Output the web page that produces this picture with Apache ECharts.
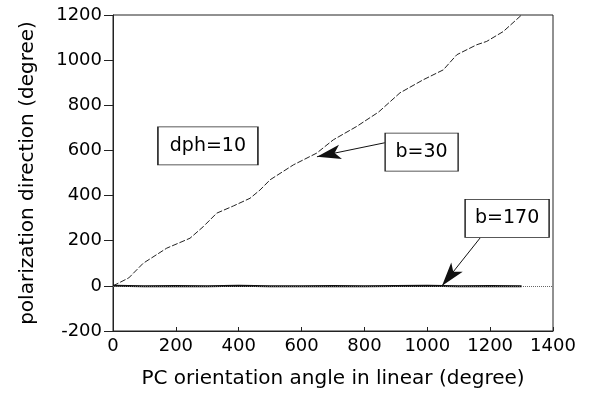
<!DOCTYPE html>
<html><head><meta charset="utf-8">
<script src="https://cdn.jsdelivr.net/npm/echarts@6/dist/echarts.min.js"></script>
<style>html,body{margin:0;padding:0;background:#fff}#c{width:597px;height:396px}</style>
</head><body><div id="c"></div>
<script>
// Data
var b30X = [0,50,96,171,245,287,330,383,436,468,500,574,648,701,775,845,913,987,1051,1094,1157,1189,1242,1300];
var b30Y = [0,35,100,167,211,262,322,354,388,425,470,536,588,647,706,770,855,913,957,1024,1068,1083,1127,1200];
var b170X = [0,100,200,300,400,500,600,700,800,900,1000,1100,1200,1300];
var b170Y = [0,-2,-1,-2,0,-2,-2,-1,-2,-1,0,-2,-1,-2];
var xTicks = [0,200,400,600,800,1000,1200,1400];
var yTicks = [-200,0,200,400,600,800,1000,1200];
// annotations (data coordinates)
var noteDph = {text:'dph=10', at:[302,620]};
var noteB30 = {text:'b=30', at:[982,592], from:[865,634], to:[649,572]};
var noteB170 = {text:'b=170', at:[1254,299], from:[1168,212], to:[1047,0]};

var FONT = 'DejaVu Sans, sans-serif';
function pairs(xs, ys){ return xs.map(function(x,i){return [x, ys[i]];}); }
function box(n, w){
  return {coord:n.at, symbol:'rect', symbolSize:[w,38],
    itemStyle:{color:'#fff', borderColor:'#222', borderWidth:1},
    label:{show:true, position:'inside', formatter:n.text, color:'#000', fontSize:19, fontFamily:FONT}};
}
function arrow(n){
  return [{coord:n.from, symbol:'none'},{coord:n.to, symbol:'arrow', symbolSize:[11,24]}];
}
function plain(v){ return String(v); }
var chart = echarts.init(document.getElementById('c'), null, {renderer:'canvas'});
chart.setOption({
  animation:false,
  backgroundColor:'#fff',
  grid:{left:113, right:44, top:15, bottom:65, show:true, borderColor:'#222', borderWidth:1, backgroundColor:'transparent'},
  xAxis:{type:'value', min:xTicks[0], max:xTicks[xTicks.length-1], interval:200,
    name:'PC orientation angle in linear (degree)', nameLocation:'middle', nameGap:38,
    nameTextStyle:{fontSize:20, color:'#000', fontFamily:FONT},
    axisLine:{show:true, onZero:false, lineStyle:{color:'#222', width:1}},
    axisTick:{show:true, inside:true, length:4, lineStyle:{color:'#222'}},
    axisLabel:{fontSize:18, color:'#000', fontFamily:FONT, margin:6, formatter:plain},
    splitLine:{show:false}},
  yAxis:{type:'value', min:yTicks[0], max:yTicks[yTicks.length-1], interval:200,
    name:'polarization direction (degree)', nameLocation:'middle', nameGap:75,
    nameTextStyle:{fontSize:20, color:'#000', fontFamily:FONT},
    axisLine:{show:true, onZero:false, lineStyle:{color:'#222', width:1}},
    axisTick:{show:true, inside:false, length:9, lineStyle:{color:'#222'}},
    axisLabel:{fontSize:18, color:'#000', fontFamily:FONT, margin:11, formatter:plain},
    splitLine:{show:false}},
  series:[
    {name:'b=30', type:'line', data:pairs(b30X,b30Y), showSymbol:false, smooth:false,
      lineStyle:{color:'#222', width:1, type:[6,2]},
      markPoint:{silent:true, data:[box(noteDph,100), box(noteB30,73)]},
      markLine:{silent:true, symbol:['none','none'], label:{show:false},
        lineStyle:{color:'#111', width:1, type:'solid'},
        data:[arrow(noteB30)]}},
    {name:'b=170', type:'line', data:pairs(b170X,b170Y), showSymbol:false,
      lineStyle:{color:'#111', width:2},
      markPoint:{silent:true, data:[box(noteB170,84)]},
      markLine:{silent:true, symbol:['none','none'], label:{show:false},
        lineStyle:{color:'#111', width:1, type:'solid'},
        data:[arrow(noteB170),
          [{coord:[0,0], symbol:'none', lineStyle:{type:'dotted', color:'#666', width:1}},
           {coord:[1400,0], symbol:'none'}]]}}
  ]
});
</script></body></html>
